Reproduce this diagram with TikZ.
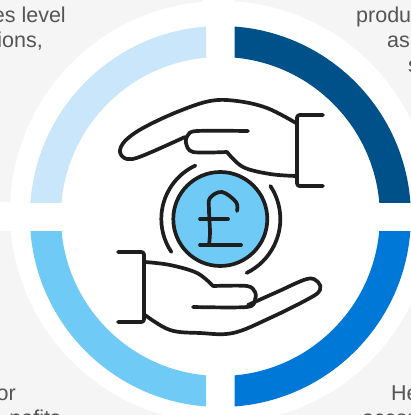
\documentclass[tikz,border=0pt]{standalone}
\usepackage{fontspec}
\setmainfont{Liberation Sans}
\begin{document}
\begin{tikzpicture}[x=1pt,y=-1pt,
  ink/.style={draw=inkc,line width=3.7pt,line cap=round,line join=round},
  lbl/.style={inner sep=0pt,text=textc,font=\fontsize{21.5}{25}\selectfont,anchor=base}]
\definecolor{inkc}{HTML}{1E1E1E}
\definecolor{textc}{HTML}{555555}
\definecolor{bgc}{HTML}{F5F5F5}
\definecolor{seglight}{HTML}{C9E6FB}
\definecolor{segdark}{HTML}{00508A}
\definecolor{segmid}{HTML}{6FCAF6}
\definecolor{segblue}{HTML}{0078D7}
\useasboundingbox (0,0) rectangle (411,415);
\clip (0,0) rectangle (411,415);
\fill[bgc] (0,0) rectangle (411,415);
% texts
\node[lbl,anchor=base east] (t1) at (66,22) {es level};
\node[lbl,anchor=base east] (t2) at (43,47) {ions,};
\node[lbl,anchor=base west] (t3) at (356,22) {produ};
\node[lbl,anchor=base west] (t4) at (387,47) {as};
\node[lbl,anchor=base west] (t5) at (408,72) {s};
\node[lbl,anchor=base east] (t6) at (16,400) {or};
\node[lbl,anchor=base east] (t7) at (61,425) {nefits};
\node[lbl,anchor=base west] (t8) at (391,400) {He};
\node[lbl,anchor=base west] (t9) at (362,425) {accou};
% white backing
\fill[white] (221,212) circle (211);
\fill[white] (203,0) rectangle (234.5,415);
\fill[white] (0,202) rectangle (411,231);
% ring quadrants
\begin{scope}
\clip (0,0) rectangle (206,202);
\fill[seglight,even odd rule] (220.4,216.5) circle (190.5) (220.4,216.5) circle (159.5);
\end{scope}
\begin{scope}
\clip (234.7,0) rectangle (411,202);
\fill[segdark,even odd rule] (220.4,216.5) circle (190.5) (220.4,216.5) circle (159.5);
\end{scope}
\begin{scope}
\clip (0,231) rectangle (206,415);
\fill[segmid,even odd rule] (220.4,216.5) circle (190.5) (220.4,216.5) circle (159.5);
\end{scope}
\begin{scope}
\clip (234.7,231) rectangle (411,415);
\fill[segblue,even odd rule] (220.4,216.5) circle (190.5) (220.4,216.5) circle (159.5);
\end{scope}
% upper hand
\draw[ink,rounded corners=2.5pt] (323,115) -- (297,115) -- (297,186) -- (323,186);
\draw[ink] plot[smooth,tension=0.6] coordinates {(296,123) (267,108) (237,101) (210,101) (177,112) (143,128) (125,141) (120,152) (127,159) (142,156) (185,137)};
\draw[ink] plot[smooth,tension=0.5] coordinates {(248,131) (197,131) (188,135) (186,143) (193,152) (227,152)};
\draw[ink] plot[smooth,tension=0.6] coordinates {(227,152) (243,167) (270,174) (296,176)};
% lower hand
\draw[ink,rounded corners=2.5pt] (118,252) -- (144,252) -- (144,322) -- (118,322);
\draw[ink] plot[smooth,tension=0.6] coordinates {(145,262) (170,265) (197,273) (213,286)};
\draw[ink] plot[smooth,tension=0.5] coordinates {(213,286) (247,286) (255,292) (255,300) (247,307) (193,307)};
\draw[ink] plot[smooth,tension=0.6] coordinates {(248,305) (277,292) (307,279) (318,282) (320,290) (310,298) (270,318) (233,333) (200,333) (170,330) (145,315)};
% coin
\draw[ink,fill=segmid] (220.3,219) circle (47);
\draw[ink] ([shift={(220.3,219)}]-115:59) arc (-115:-214:59);
\draw[ink] ([shift={(220.3,219)}]-33.4:60) arc (-33.4:64:60);
% pound sign
\draw[ink] plot[smooth,tension=0.6] coordinates {(237,211) (236,202) (222,192) (210,198) (209,210) (210,232) (209,245)};
\draw[ink] (200,219) -- (228,219);
\draw[ink] (200,245) -- (241,245);
\end{tikzpicture}
\end{document}
